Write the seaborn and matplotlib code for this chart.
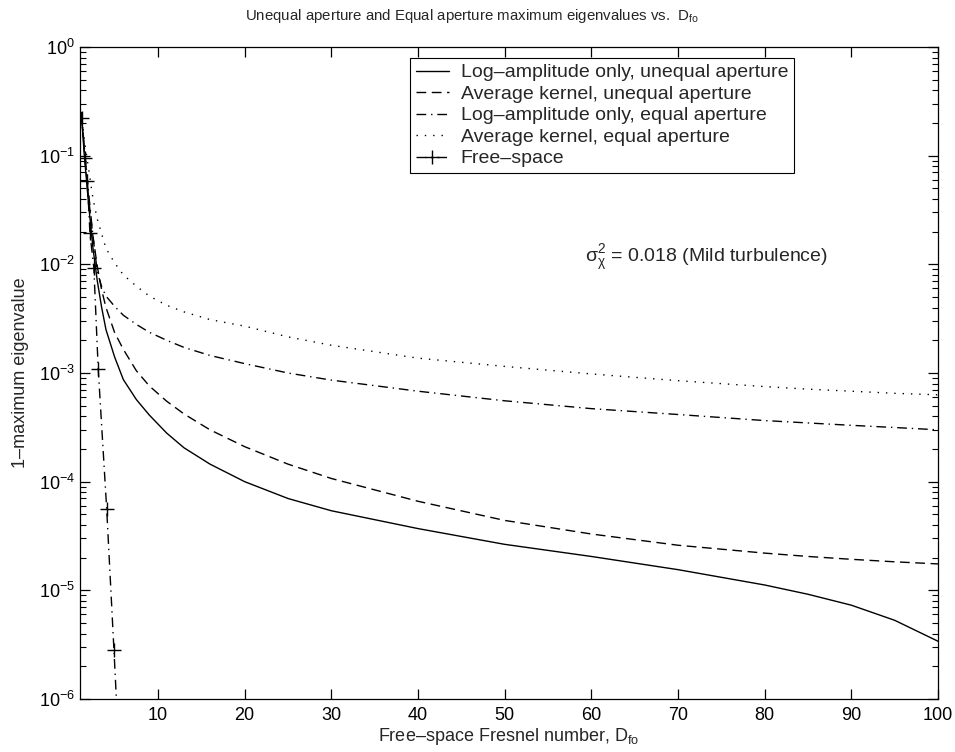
import matplotlib
matplotlib.use("Agg")
import matplotlib.pyplot as plt
import seaborn as sns
from matplotlib.ticker import LogLocator, FixedLocator, NullFormatter

# --- values ---
d_fo = [1.15, 1.5, 2, 2.5, 3, 3.5, 4, 5, 6, 7.5, 9, 11, 13, 16, 20, 25, 30,
        40, 50, 60, 70, 80, 85, 90, 95, 100]
log_amp_unequal = [0.25, 0.1, 0.035, 0.014, 7e-3, 4e-3, 2.5e-3, 1.4e-3, 8.7e-4,
                   5.7e-4, 4.1e-4, 2.8e-4, 2.05e-4, 1.45e-4, 1.0e-4, 7.0e-5,
                   5.4e-5, 3.7e-5, 2.65e-5, 2.05e-5, 1.55e-5, 1.12e-5, 9.2e-6,
                   7.3e-6, 5.3e-6, 3.4e-6]
avg_kernel_unequal = [0.25, 0.11, 0.04, 0.018, 9.5e-3, 5.8e-3, 4.0e-3, 2.35e-3,
                      1.65e-3, 1.05e-3, 7.6e-4, 5.5e-4, 4.2e-4, 3.0e-4, 2.1e-4,
                      1.45e-4, 1.07e-4, 6.6e-5, 4.4e-5, 3.3e-5, 2.6e-5, 2.2e-5,
                      2.05e-5, 1.93e-5, 1.83e-5, 1.75e-5]
log_amp_equal = [0.25, 0.12, 0.045, 0.018, 8.5e-3, 6.2e-3, 5.1e-3, 4.1e-3, 3.4e-3,
                 2.8e-3, 2.37e-3, 2.0e-3, 1.72e-3, 1.45e-3, 1.22e-3, 1.0e-3,
                 8.6e-4, 6.8e-4, 5.55e-4, 4.7e-4, 4.15e-4, 3.65e-4, 3.47e-4,
                 3.3e-4, 3.15e-4, 3.0e-4]
avg_kernel_equal = [0.25, 0.14, 0.075, 0.04, 0.026, 0.019, 0.014, 0.0103, 8.0e-3,
                    6.3e-3, 5.1e-3, 4.2e-3, 3.65e-3, 3.1e-3, 2.7e-3, 2.15e-3,
                    1.8e-3, 1.37e-3, 1.15e-3, 9.8e-4, 8.5e-4, 7.5e-4, 7.1e-4,
                    6.8e-4, 6.5e-4, 6.3e-4]
free_space_d = [1.2, 1.58, 1.85, 2.15, 2.6, 3.1, 4.08, 4.92, 5.8]
free_space = [0.22, 0.095, 0.058, 0.0193, 0.0092, 1.1e-3, 5.6e-5, 2.8e-6, 1.1e-7]

labels = ["Log\u2013amplitude only, unequal aperture",
          "Average kernel, unequal aperture",
          "Log\u2013amplitude only, equal aperture",
          "Average kernel, equal aperture",
          "Free\u2013space"]


def set_style():
    sns.set_theme(style="ticks")
    plt.rcParams['font.family'] = ['Liberation Sans', 'DejaVu Sans']
    plt.rcParams['mathtext.fontset'] = 'custom'
    plt.rcParams['mathtext.rm'] = 'Liberation Sans'
    plt.rcParams['mathtext.it'] = 'Liberation Sans:italic'
    plt.rcParams['mathtext.default'] = 'regular'
    plt.rcParams['axes.edgecolor'] = 'black'
    plt.rcParams['axes.linewidth'] = 0.9


def plot():
    set_style()
    fig = plt.figure(figsize=(9.55, 7.52), dpi=100)
    ax = fig.add_axes([80 / 955, 1 - 699 / 752, 858 / 955, 652 / 752])

    kw = dict(ax=ax, color="black", linewidth=1.0, estimator=None, sort=False)
    sns.lineplot(x=d_fo, y=log_amp_unequal, linestyle="-", label=labels[0], **kw)
    sns.lineplot(x=d_fo, y=avg_kernel_unequal, linestyle=(0, (7, 4)), label=labels[1], **kw)
    sns.lineplot(x=d_fo, y=log_amp_equal, linestyle=(0, (7, 3.5, 1, 3.5)), label=labels[2], **kw)
    sns.lineplot(x=d_fo, y=avg_kernel_equal, linestyle=(0, (1, 5)), label=labels[3], **kw)
    sns.lineplot(x=free_space_d, y=free_space, linestyle=(0, (7, 3.5, 1, 3.5)),
                 marker="+", markersize=10, markeredgewidth=1.0,
                 markeredgecolor="black", label=labels[4], **kw)

    ax.set_yscale("log")
    ax.set_xlim(1, 100)
    ax.set_ylim(1e-6, 1)
    ax.xaxis.set_major_locator(FixedLocator([10, 20, 30, 40, 50, 60, 70, 80, 90, 100]))
    ax.yaxis.set_major_locator(LogLocator(base=10, numticks=10))
    ax.yaxis.set_minor_locator(LogLocator(base=10, subs=range(2, 10), numticks=20))
    ax.yaxis.set_minor_formatter(NullFormatter())
    ax.tick_params(which="both", direction="in", top=True, right=True,
                   colors="black", labelsize=13)
    ax.tick_params(which="major", length=7, width=0.9)
    ax.tick_params(which="minor", length=4, width=0.8)
    ax.tick_params(axis="x", pad=6)

    ax.set_xlabel("Free\u2013space Fresnel number, D$_{fo}$", fontsize=13)
    ax.set_ylabel("1\u2013maximum eigenvalue", fontsize=13)
    ax.yaxis.set_label_coords(-0.059, 0.5)
    ax.xaxis.set_label_coords(0.5, -0.042)

    fig.text(472 / 955, 1 - 16 / 752,
             "Unequal aperture and Equal aperture maximum eigenvalues vs.  D$_{fo}$",
             ha="center", va="center", fontsize=10.8)

    ax.text(59.3, 0.0115, "$\u03c3^2_\u03c7$ = 0.018 (Mild turbulence)",
            ha="left", va="center", fontsize=14)

    ax.legend(loc="upper left", bbox_to_anchor=(410 / 955, 1 - 58 / 752),
              bbox_transform=fig.transFigure, frameon=True, fancybox=False,
              edgecolor="black", framealpha=1, borderpad=0.3, labelspacing=0.2,
              handlelength=1.7, handletextpad=0.6, fontsize=14,
              borderaxespad=0)
    ax.get_legend().get_frame().set_linewidth(0.8)

    plt.savefig("out.png", dpi=100)


if __name__ == "__main__":
    plot()
